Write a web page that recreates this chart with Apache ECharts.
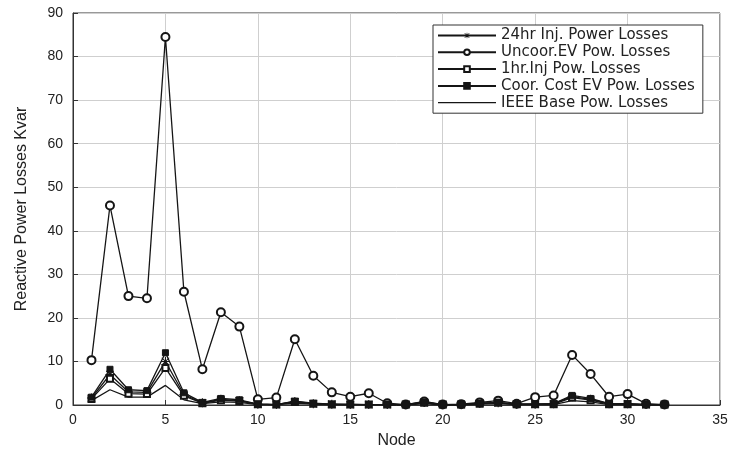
<!DOCTYPE html>
<html><head><meta charset="utf-8">
<script src="https://cdn.jsdelivr.net/npm/echarts@6/dist/echarts.min.js"></script>
<style>html,body{margin:0;padding:0;background:#fff}#c{width:736px;height:454px}</style>
</head><body><div id="c"></div>
<script>
const nodes = [1,2,3,4,5,6,7,8,9,10,11,12,13,14,15,16,17,18,19,20,21,22,23,24,25,26,27,28,29,30,31,32];
const inj24 = [1.6,7,3,2.9,10,2.4,0.5,1.3,1.0,0.2,0.1,0.8,0.3,0.2,0.1,0.1,0.1,0.1,0.6,0.1,0.1,0.4,0.5,0.2,0.2,0.3,1.9,1.3,0.3,0.3,0.1,0.1];
const uncoor = [10.3,45.8,25,24.5,84.5,26,8.2,21.3,18,1.3,1.7,15.1,6.7,2.9,1.9,2.7,0.4,0.1,0.8,0.1,0.2,0.6,1.0,0.3,1.8,2.2,11.5,7.1,1.9,2.5,0.3,0.1];
const inj1 = [1.4,6,2.6,2.5,8.5,2.1,0.4,1.1,0.9,0.2,0.1,0.7,0.3,0.1,0.1,0.1,0.1,0.1,0.5,0.1,0.1,0.3,0.5,0.2,0.2,0.2,1.7,1.1,0.2,0.2,0.1,0.1];
const coor = [1.8,8.2,3.5,3.3,12,2.8,0.6,1.5,1.2,0.2,0.1,0.9,0.4,0.2,0.2,0.1,0.1,0.1,0.7,0.1,0.1,0.4,0.6,0.2,0.2,0.3,2.2,1.5,0.3,0.3,0.1,0.1];
const base = [1.0,3.5,1.8,1.8,4.5,1.2,0.3,0.7,0.6,0.1,0.1,0.4,0.2,0.1,0.1,0.1,0.0,0.0,0.3,0.0,0.0,0.2,0.3,0.1,0.1,0.1,1.0,0.7,0.1,0.1,0.0,0.0];
const names = ['24hr Inj. Power Losses','Uncoor.EV Pow. Losses','1hr.Inj Pow. Losses','Coor. Cost EV Pow. Losses','IEEE Base Pow. Losses'];

const star = 'path://M4.4 0L5.6 0L5.6 10L4.4 10Z M0 4.4L10 4.4L10 5.6L0 5.6Z M1.3 0.5L9.5 8.7L8.7 9.5L0.5 1.3Z M8.7 0.5L9.5 1.3L1.3 9.5L0.5 8.7Z';
const pairs = a => nodes.map((n,i)=>[n,a[i]]);
const col = '#151515';
function ser(name, data, symbol, size){
  return {
    name, type:'line', data:pairs(data), symbol, symbolSize:size,
    lineStyle:{color:col,width:1.3}, itemStyle:{color:col,borderColor:col,borderWidth:1},
    animation:false
  };
}
const chart = echarts.init(document.getElementById('c'));
const font = 'Liberation Sans, Arial, sans-serif';
const s0 = ser(names[0],inj24,star,9); s0.itemStyle = {color:col,borderWidth:0};
const s4 = ser(names[4],base,'none',0);
const legendData = names.map((n,i)=> i===4 ? {name:n, icon:'path://M0 0H58V1.2H0Z', itemStyle:{color:col,borderWidth:0}} : {name:n});
chart.setOption({
  animation:false,
  textStyle:{fontFamily:font},
  grid:{left:73,right:16,top:13,bottom:49,show:true,borderColor:'#333',borderWidth:1,backgroundColor:'transparent'},
  xAxis:{type:'value',min:0,max:35,interval:5,
    name:'Node',nameLocation:'middle',nameGap:28,nameTextStyle:{fontSize:16,color:'#222',fontFamily:font},
    axisLine:{show:true,lineStyle:{color:'#333'}},
    axisTick:{inside:true,length:5,lineStyle:{color:'#333'}},
    axisLabel:{fontSize:14,color:'#222',margin:8,fontFamily:font},
    splitLine:{show:true,lineStyle:{color:'#cfcfcf',width:1}}},
  yAxis:{type:'value',min:0,max:90,interval:10,
    name:'Reactive Power Losses Kvar',nameLocation:'middle',nameGap:43,nameTextStyle:{fontSize:16,color:'#222',fontFamily:font},
    axisLine:{show:true,lineStyle:{color:'#333'}},
    axisTick:{inside:true,length:5,lineStyle:{color:'#333'}},
    axisLabel:{fontSize:14,color:'#222',margin:10,fontFamily:font},
    splitLine:{show:true,lineStyle:{color:'#cfcfcf',width:1}}},
  legend:{orient:'vertical',left:433,top:25,data:legendData,
    itemWidth:58,itemHeight:7,itemGap:1.8,padding:[3,8,3,4],
    borderColor:'#333',borderWidth:1,backgroundColor:'#fff',
    textStyle:{fontSize:15,color:'#222',fontFamily:'DejaVu Sans, sans-serif'}},
  series:[
    s0,
    ser(names[1],uncoor,'emptyCircle',8),
    ser(names[2],inj1,'emptyRect',6),
    ser(names[3],coor,'rect',6),
    s4
  ]
});
</script></body></html>
